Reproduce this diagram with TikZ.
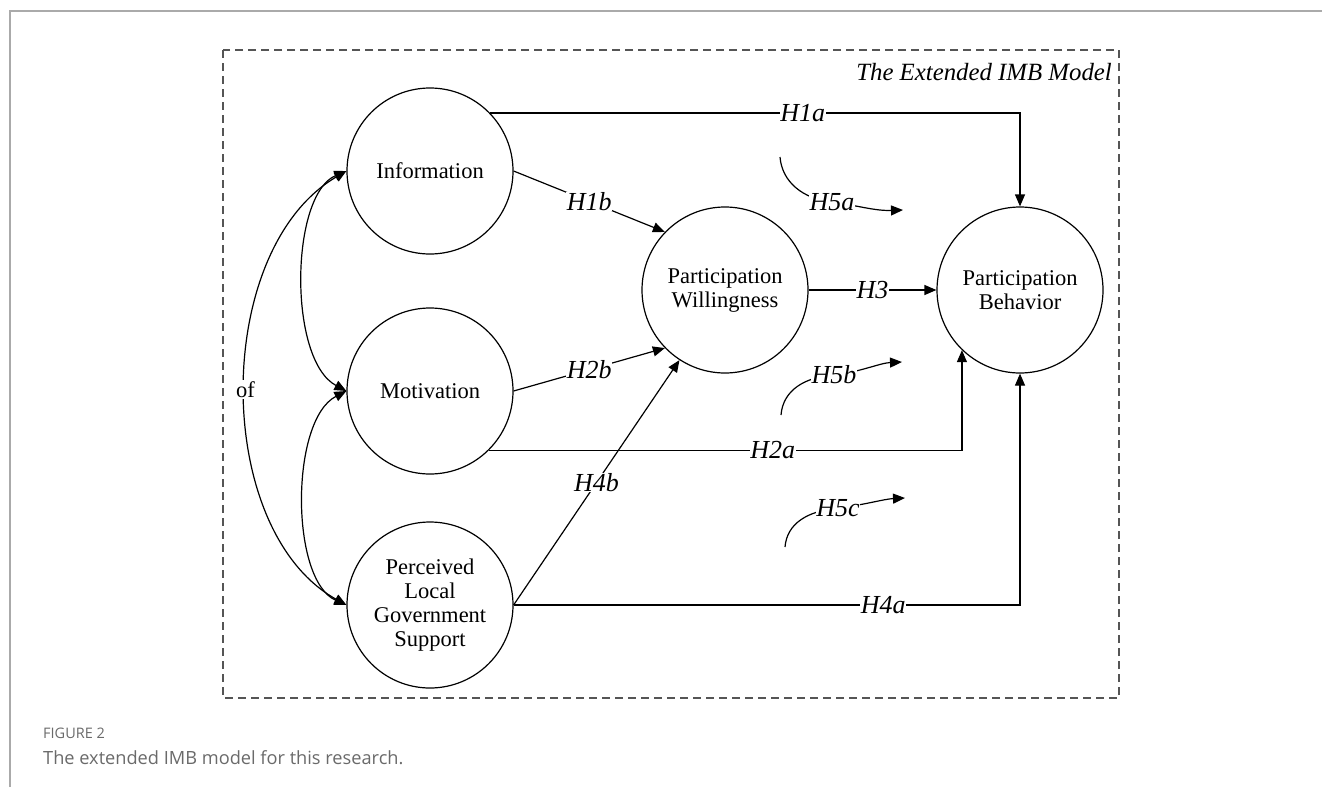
\documentclass[tikz,border=0pt]{standalone}
\usepackage{fontspec}
\setmainfont{Liberation Serif}
\newfontfamily\capfont{Open Sans}
\usetikzlibrary{arrows.meta}
\definecolor{capgrey}{HTML}{6A6A6A}
\definecolor{framegrey}{HTML}{AAAAAA}
\definecolor{dashgrey}{HTML}{555555}
\tikzset{
  construct/.style={circle, draw, line width=1.2pt, minimum size=166pt, inner sep=0pt, align=center,
     font=\fontsize{22.5}{24}\selectfont},
  link/.style={line width=1.2pt, -{Triangle[length=12pt,width=10pt]}},
  dlink/.style={line width=1.2pt, {Triangle[length=12pt,width=10pt]}-{Triangle[length=12pt,width=10pt]}},
  hyp/.style={fill=white, inner sep=0.5pt, font=\fontsize{26}{28}\selectfont\itshape},
}
\begin{document}
\begin{tikzpicture}[x=1pt,y=-1pt]
\useasboundingbox (0,0) rectangle (1322,787);
% outer frame lines
\draw[framegrey, line width=1.5pt] (10,787) -- (10,11) -- (1322,11);
% dashed model box
\draw[dashgrey, line width=1.4pt, dash pattern=on 8pt off 5pt] (223,50) rectangle (1119,698);
\node[anchor=base east, font=\fontsize{24.8}{28}\selectfont\itshape, inner sep=0pt] (title) at (1112,80) {The Extended IMB Model};

% constructs
\node[construct] (info) at (430,171) {Information};
\node[construct] (mot) at (430,391) {Motivation};
\node[construct] (per) at (430,605) {Perceived\\Local\\Government\\Support};
\node[construct] (wil) at (725,290) {Participation\\Willingness};
\node[construct] (beh) at (1020,290) {Participation\\Behavior};

% correlations on the left
\draw[dlink] (info.west) .. controls (212,250) and (212,530) .. node[pos=0.5, fill=white, inner sep=1pt, font=\fontsize{22.5}{24}\selectfont] (of) {of} (per.west);
\draw[dlink] (info.west) .. controls (290,195) and (288,360) .. (mot.west);
\draw[dlink] (mot.west) .. controls (290,420) and (290,580) .. (per.west);

% hypotheses paths
\draw[link] (info.44) -- node[hyp, pos=0.59] (h1a) {H1a} (info.44 -| beh.north) -- (beh.north);
\draw[link] (info.east) -- node[hyp] (h1b) {H1b} (wil.136);
\draw[link] (wil.east) -- node[hyp] (h3) {H3} (beh.west);
\draw[link] (mot.east) -- node[hyp] (h2b) {H2b} (wil.224);
\draw[link] (per.east) -- node[hyp] (h4b) {H4b} (wil.237);
\draw[link] (mot.-45) -- node[hyp, pos=0.6] (h2a) {H2a} (mot.-45 -| beh.-134) -- (beh.-134);
\draw[link] (per.east) -- node[hyp, pos=0.73] (h4a) {H4a} (per.east -| beh.south) -- (beh.south);

% moderation arrows
\coordinate (h5as) at (780,157);
\coordinate (h5am) at (832,202);
\coordinate (h5ae) at (903,210);
\draw[link] (h5as) .. controls (782,182) and (803,199) .. (h5am) .. controls (860,206) and (875,211) .. (h5ae);
\node[hyp] (h5a) at (h5am) {H5a};

\coordinate (h5bs) at (781,415);
\coordinate (h5bm) at (834,375);
\coordinate (h5be) at (902,362);
\draw[link] (h5bs) .. controls (783,390) and (805,377) .. (h5bm) .. controls (860,372) and (880,363) .. (h5be);
\node[hyp] (h5b) at (h5bm) {H5b};

\coordinate (h5cs) at (785,547);
\coordinate (h5cm) at (838,508);
\coordinate (h5ce) at (905,498);
\draw[link] (h5cs) .. controls (787,523) and (808,511) .. (h5cm) .. controls (864,505) and (884,499) .. (h5ce);
\node[hyp] (h5c) at (h5cm) {H5c};

% caption
\node[anchor=base west, inner sep=0pt, text=capgrey, font=\capfont\fontsize{14.5}{18}\selectfont] (figlab) at (43,738) {FIGURE 2};
\node[anchor=base west, inner sep=0pt, text=capgrey, font=\capfont\fontsize{18.2}{24}\selectfont] (caption) at (43,764) {The extended IMB model for this research.};
\end{tikzpicture}
\end{document}
